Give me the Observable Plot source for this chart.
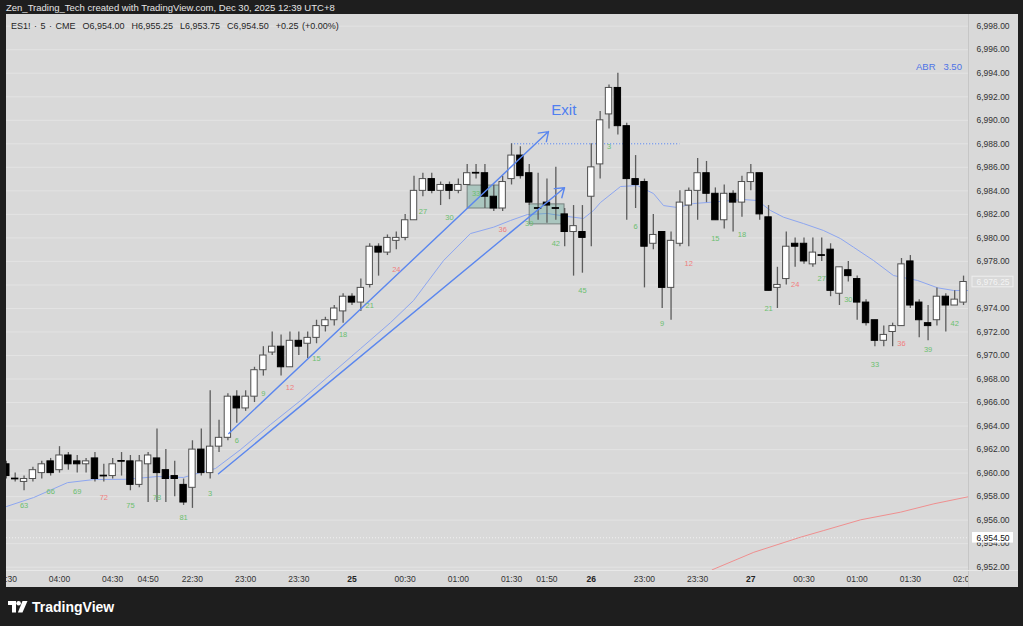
<!DOCTYPE html>
<html><head><meta charset="utf-8">
<script src="https://cdn.jsdelivr.net/npm/d3@7"></script>
<script src="https://cdn.jsdelivr.net/npm/@observablehq/plot@0.6"></script>
<style>
html,body{margin:0;padding:0;background:#1e1e1e;width:1023px;height:626px;overflow:hidden;font-family:"Liberation Sans",Arial,sans-serif;}
#hdr{position:absolute;left:6px;top:2px;color:#e6e6e6;font-size:9.5px;white-space:nowrap;}
#panel{position:absolute;left:6px;top:14px;width:1012px;height:573px;background:#d9d9d9;}
#legend{position:absolute;left:5px;top:7px;font-size:9px;color:#262626;white-space:nowrap;word-spacing:1px;}
#abr{position:absolute;left:910px;top:47px;font-size:9.5px;color:#4d73e6;white-space:pre;}
#logo{position:absolute;left:8px;top:599px;color:#fff;font-weight:bold;font-size:14px;display:flex;align-items:center;gap:4px;}
</style>
</head><body>
<div id="hdr">Zen_Trading_Tech created with TradingView.com, Dec 30, 2025 12:39 UTC+8</div>
<div id="panel"></div>
<div id="logo"><svg width="20" height="12" viewBox="0 0 20 12"><path d="M0 0h8v11.5h-4v-7.5h-4z" fill="#fff"/><circle cx="10.6" cy="2.3" r="2.3" fill="#fff"/><path d="M14.5 0h5l-5 11.5h-4.6z" fill="#fff"/></svg><span>TradingView</span></div>
<script>
// ---------- data ----------
const firstBar = -6;
const opens = [6960.75,6959.5,6959.25,6959.5,6960,6961,6960.25,6961.5,6961,6960.75,6961.25,6959.75,6959.75,6961,6961,6959,6960.75,6961.25,6960.25,6959.75,6959,6958.75,6962,6960,6962.25,6963,6966.5,6965.5,6966.5,6968.75,6970.25,6970.75,6969,6971.25,6971,6971.5,6972.5,6973,6973.75,6975,6974.5,6976,6979.25,6978.75,6979.75,6980,6981.5,6984,6985,6984,6984.5,6984,6984.5,6985.5,6985.5,6983.5,6982.5,6985,6987,6985.5,6982.5,6983,6982.5,6982,6980.5,6980.5,6983.5,6986.25,6990.5,6992.75,6989.5,6985,6984.75,6979.5,6980.5,6975.75,6979.5,6982.75,6984,6985.5,6983.75,6981.5,6983.75,6983,6984.75,6985.5,6981.75,6975.75,6976.5,6979.5,6979.5,6977.75,6978.5,6979,6975.25,6977.25,6976.5,6974.5,6973,6971.25,6972,6972.5,6978,6974.5,6972.75,6973,6975,6974.25,6974.5];
const highs = [6961,6960,6959.75,6960.5,6961,6961.25,6962.25,6961.75,6961.5,6961.25,6961.75,6960.75,6961.25,6961.75,6961.5,6961.5,6961.75,6963.75,6962,6961,6959.5,6962.75,6963.75,6967,6964.5,6966.75,6967,6967,6969,6970.75,6972,6971.75,6972,6972,6972,6973,6973.25,6974.25,6975.25,6975.25,6976.5,6979.5,6979.5,6980.25,6980.5,6982,6985.25,6985.5,6985.5,6984.75,6984.75,6985,6986.25,6986.25,6986.25,6984.5,6985.25,6988,6987.75,6986.25,6985.5,6985,6986,6982.5,6982.75,6982.75,6988,6990.75,6993,6994,6989.75,6987,6985,6982,6980.5,6980.5,6984,6984.25,6986.75,6986.5,6984.25,6984.5,6984,6985.25,6986.25,6985.5,6982.75,6977.5,6980.5,6980,6980,6980,6980,6979.5,6977.5,6978,6976.75,6974.75,6973,6972.5,6972.75,6978.25,6978.5,6974.75,6974.25,6975.75,6975.25,6975.5,6976.75];
const lows = [6959.5,6959.25,6958.5,6959.25,6959.5,6959.75,6960,6960.25,6960,6960,6959.25,6959.25,6959.5,6959.75,6958.5,6958.75,6957.5,6957.5,6957.5,6958,6957.25,6957,6959.75,6959.5,6961.75,6962.75,6964.25,6965.25,6966,6968.25,6970,6968.25,6969,6970,6969.75,6971,6972,6972.5,6972.75,6974.25,6973.75,6975.75,6976.75,6978.5,6979,6979.75,6981.5,6983.5,6983.75,6982.75,6983.25,6983.75,6984.5,6985,6982.5,6982.25,6982.25,6984.5,6985,6982.75,6981.5,6981.25,6981.5,6979.25,6976.75,6977,6979.25,6985,6989.25,6988.75,6981.5,6982.5,6975.75,6979,6974,6973,6979.25,6979.25,6981.5,6983,6981.5,6980.75,6980.5,6981.75,6984,6981.5,6975.5,6974,6976,6977.5,6977.75,6977.5,6978,6975,6974.25,6976.25,6973,6972.5,6970.75,6970.75,6970.75,6972.5,6974,6971.5,6971.25,6972.5,6972,6974.25,6974.25];
const closes = [6959.75,6959.5,6959.5,6960.25,6960.75,6960,6961.5,6960.75,6960.75,6961,6959.5,6959.75,6960.75,6961,6959,6961,6961.5,6960,6959.5,6959.5,6957.5,6962,6960,6962.25,6963,6966.5,6965.5,6966.5,6968.75,6970,6970.75,6969,6971.25,6970.75,6971.5,6972.5,6973,6974,6975,6974.5,6975.75,6979.25,6978.75,6980,6980,6981.5,6984,6985,6984,6984.5,6984,6984.5,6985.5,6985.5,6983.5,6982.5,6984.75,6987,6985.25,6983,6982.5,6982.75,6982.5,6980.5,6981,6980,6986,6990,6992.75,6989.5,6985,6984.5,6979.25,6980.25,6975.75,6979.75,6983,6984,6985.5,6983.75,6981.5,6983.75,6983,6984.75,6985.5,6982,6975.5,6976,6979.25,6979.25,6978,6978.75,6978.5,6975.5,6977.5,6976.75,6974.5,6972.75,6971.25,6971.75,6972.5,6977.75,6974.25,6973,6972.5,6975,6974.25,6974.75,6976.25];

// moving averages (bar index, price)
const emaIdx = [-5.98,-2.93,0.9,3.84,7.67,11.06,13.99,15.91,17.6,20.43,23.81,27.2,30.58,33.97,37.35,39.94,43.33,46.37,48.97,50.89,52.8,55.06,57.32,59.12,60.25,61.04,63.3,65.21,67.02,68.15,69.73,71.53,73.45,77.17,78.75,80.22,81.69,83.94,86.2,88.12,89.59,91.84,94.1,96.81,99.06,100.87,102.8];
const emaVal = [6957.16,6957.92,6959.19,6959.45,6959.48,6959.71,6959.63,6960.05,6960.39,6962.0,6964.13,6966.17,6968.38,6970.59,6972.8,6974.67,6978.07,6980.37,6980.91,6981.48,6981.99,6982.07,6981.82,6981.65,6982.33,6983.01,6984.37,6984.45,6983.77,6982.75,6982.58,6982.92,6983.03,6983.26,6983.18,6982.33,6981.76,6981.22,6980.63,6979.94,6979.21,6978.08,6976.8,6976.38,6975.76,6975.53,6975.53];
const maIdx = [73.64,78.34,83.6,86.23,90.39,94.9,98.65,102.8];
const maVal = [6951.78,6953.27,6954.55,6955.12,6956.03,6956.68,6957.39,6958.03];

// bar-count labels
const countIdx = [-4,-1,2,5,8,11,14,17,20,23,26,29,32,35,38,41,44,47,50,53,56,59,62,65,68,71,74,77,80,83,86,89,92,95,98,101];
const countText = ["63","66","69","72","75","78","81","3","6","9","12","15","18","21","24","27","30","33","36","39","42","45","3","6","9","12","15","18","21","24","27","30","33","36","39","42"];
const countPrice = [6957.24,6958.46,6958.46,6957.95,6957.24,6957.95,6956.2,6958.24,6962.77,6966.74,6967.25,6969.72,6971.78,6974.25,6977.29,6982.27,6981.71,6983.75,6980.74,6981.25,6979.5,6975.53,6987.77,6981.0,6972.69,6977.8,6979.97,6980.26,6973.97,6976.01,6976.52,6974.76,6969.23,6970.99,6970.51,6972.75];

// drawings
const trendFromIdx = [19.1, 17.94];
const trendFromPrice = [6963.36, 6959.94];
const trendToIdx = [55.17, 56.98];
const trendToPrice = [6989.04, 6984.26];
const boxFromIdx = [46.05, 53.05];
const boxToIdx = [49.7, 56.98];
const boxLow = [6982.5, 6981.15];
const boxHigh = [6984.45, 6982.85];
const targetLine = {fromIdx: 51, toIdx: 70, price: 6988};
const exitNote = {idx: 56.9, price: 6990.9, text: "Exit"};
const lastPrice = 6954.5;
const currentPrice = 6976.25;

// axes
const xTickIdx = [-6,0,6,10,15,21,27,33,39,45,51,55,60,66,72,78,84,90,96,102];
const xTickLabel = ["03:30","04:00","04:30","04:50","22:30","23:00","23:30","25","00:30","01:00","01:30","01:50","26","23:00","23:30","27","00:30","01:00","01:30","02:00"];
const boldLabels = ["25","26","27"];
const yTicks = [6952,6954,6956,6958,6960,6962,6964,6966,6968,6970,6972,6974,6976,6978,6980,6982,6984,6986,6988,6990,6992,6994,6996,6998];

// ---------- build ----------
const xMin = -5.98, xMax = 102.56, yMin = 6951.72, yMax = 6998.91;
const bars = opens.map((o, k) => {
  const b = {i: firstBar + k, o, h: highs[k], l: lows[k], c: closes[k]};
  b.up = b.c > b.o;
  b.lo = Math.min(b.o, b.c); b.hi = Math.max(b.o, b.c);
  if (b.hi - b.lo < 0.05) { b.lo -= 0.03; b.hi += 0.03; }
  return b;
});
const ema = emaIdx.map((i, k) => ({i, p: emaVal[k]}));
const ma = maIdx.map((i, k) => ({i, p: maVal[k]}));
const counts = countIdx.map((i, k) => ({i, p: countPrice[k], t: countText[k], red: (+countText[k]) % 12 === 0}));
const trends = trendFromIdx.map((v, k) => ({x1: v, y1: trendFromPrice[k], x2: trendToIdx[k], y2: trendToPrice[k]}));
const boxes = boxFromIdx.map((v, k) => ({x1: v, x2: boxToIdx[k], y1: boxLow[k], y2: boxHigh[k]}));
const labelOf = new Map(xTickIdx.map((v, k) => [v, xTickLabel[k]]));
const normalTicks = xTickIdx.filter(v => !boldLabels.includes(labelOf.get(v)));
const boldTicks = xTickIdx.filter(v => boldLabels.includes(labelOf.get(v)));
const axisTicks = yTicks.filter(v => Math.abs(v - currentPrice) > 1); // hidden under the live-price tag
const fmt = d3.format(",.2f");
const bw = 0.36;

const chart = Plot.plot({
  width: 1012, height: 573,
  marginLeft: 0, marginRight: 50, marginTop: 1, marginBottom: 17,
  style: {background: "#d9d9d9", fontFamily: "Liberation Sans, Arial, sans-serif", overflow: "hidden"},
  x: {domain: [xMin, xMax]},
  y: {domain: [yMin, yMax]},
  marks: [
    Plot.ruleY(yTicks, {stroke: "#e3e3e3", strokeWidth: 1}),
    Plot.ruleY([lastPrice], {stroke: "#f2f2f2", strokeWidth: 1, strokeDasharray: "1,2"}),
    Plot.line(ma, {x: "i", y: "p", stroke: "#ef8f8f", strokeWidth: 1, clip: true}),
    Plot.line(ema, {x: "i", y: "p", stroke: "#8da6f0", strokeWidth: 1, clip: true}),
    Plot.rect(boxes, {x1: "x1", x2: "x2", y1: "y1", y2: "y2", fill: "#3f9a86", fillOpacity: 0.3, stroke: "#77817f", strokeWidth: 1}),
    Plot.ruleY([targetLine], {x1: "fromIdx", x2: "toIdx", y: "price", stroke: "#5b87ee", strokeWidth: 1, strokeDasharray: "1.2,1.8"}),
    Plot.ruleX(bars, {x: "i", y1: "l", y2: "h", stroke: "#5c5c5c", strokeWidth: 1.3}),
    Plot.rect(bars.filter(b => b.up), {x1: b => b.i - bw, x2: b => b.i + bw, y1: "lo", y2: "hi", fill: "#ffffff", stroke: "#4f4f4f", strokeWidth: 1}),
    Plot.rect(bars.filter(b => !b.up), {x1: b => b.i - bw, x2: b => b.i + bw, y1: "lo", y2: "hi", fill: "#000000", stroke: "#000000", strokeWidth: 1}),
    Plot.arrow(trends, {x1: "x1", y1: "y1", x2: "x2", y2: "y2", stroke: "#5b87ee", strokeWidth: 1.4, headLength: 11, headAngle: 70, bend: 0}),
    Plot.text(counts.filter(d => !d.red), {x: "i", y: "p", text: "t", fill: "#6cbf6f", fontSize: 7.5}),
    Plot.text(counts.filter(d => d.red), {x: "i", y: "p", text: "t", fill: "#f07d7d", fontSize: 7.5}),
    Plot.text([exitNote], {x: "idx", y: "price", text: "text", fill: "#4f7ff0", fontSize: 15}),
    Plot.axisX({ticks: normalTicks, tickFormat: d => labelOf.get(d), tickSize: 0, tickPadding: 5, fontSize: 8.5, fill: "#333"}),
    Plot.axisX({ticks: boldTicks, tickFormat: d => labelOf.get(d), tickSize: 0, tickPadding: 5, fontSize: 8.5, fontWeight: "bold", fill: "#222"}),
    Plot.rect([0], {x1: () => xMax, x2: () => xMax, y1: () => yMin, y2: () => yMax, insetRight: -50, insetBottom: -17, insetTop: -1, fill: "#d9d9d9"}),
    Plot.ruleX([xMax], {stroke: "#c6c6c6", strokeWidth: 1, insetTop: -1, insetBottom: -17}),
    Plot.ruleY([yMin], {stroke: "#e8e8e8", strokeWidth: 1, insetRight: -50}),
    Plot.axisY({ticks: axisTicks, anchor: "right", tickFormat: fmt, tickSize: 0, tickPadding: 8, fontSize: 8.5, fill: "#333"}),
    Plot.rect([currentPrice], {y1: d => d - 0.45, y2: d => d + 0.45, x1: () => xMax, x2: () => xMax, insetLeft: 4, insetRight: -45, fill: "#d9d9d9", stroke: "#eeeeee", strokeWidth: 1}),
    Plot.text([currentPrice], {y: d => d, frameAnchor: "right", dx: 8, textAnchor: "start", text: d => fmt(d), fill: "#f4f4f4", fontSize: 8.5}),
    Plot.rect([lastPrice], {y1: d => d - 0.45, y2: d => d + 0.45, x1: () => xMax, x2: () => xMax, insetLeft: 4, insetRight: -45, fill: "#ffffff"}),
    Plot.text([lastPrice], {y: d => d, frameAnchor: "right", dx: 8, textAnchor: "start", text: d => fmt(d), fill: "#111", fontSize: 8.5})
  ]
});
const panel = document.getElementById("panel");
panel.appendChild(chart);
const legend = document.createElement("div");
legend.id = "legend";
legend.textContent = "ES1! · 5 · CME  O6,954.00  H6,955.25  L6,953.75  C6,954.50  +0.25 (+0.00%)";
legend.style.whiteSpace = "pre";
panel.appendChild(legend);
const abr = document.createElement("div");
abr.id = "abr";
abr.textContent = "ABR   3.50";
panel.appendChild(abr);
</script>
</body></html>
